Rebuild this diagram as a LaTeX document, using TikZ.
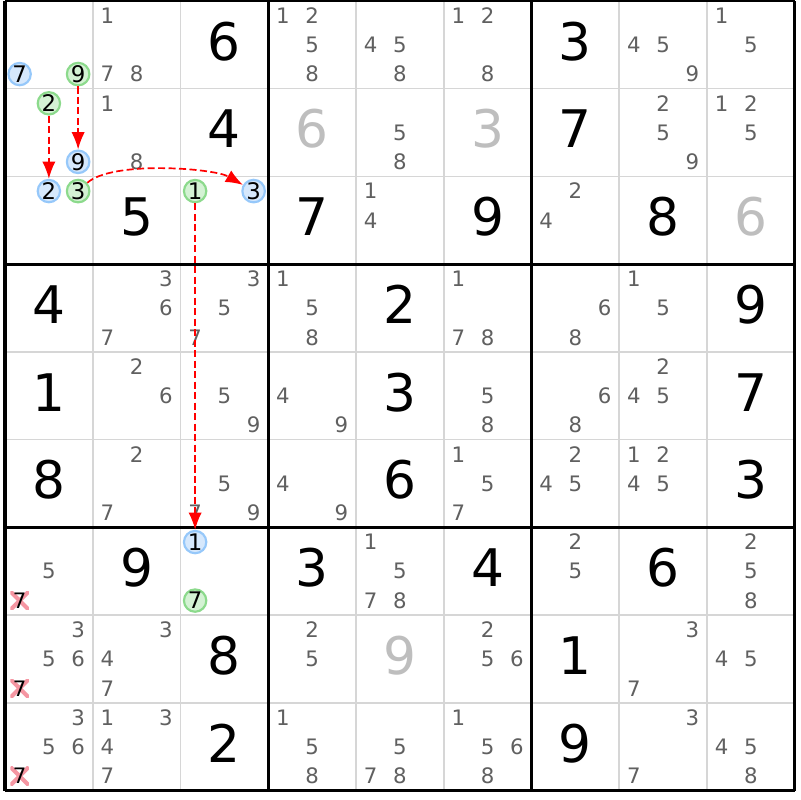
\documentclass[tikz,border=0pt]{standalone}
\usepackage{fontspec}
\setmainfont{DejaVu Sans}
\usepackage{tikz}
\usetikzlibrary{arrows.meta}
\usetikzlibrary{positioning}
\definecolor{candgray}{RGB}{96,96,96}
\definecolor{solvedgray}{RGB}{190,190,190}
\definecolor{thingrid}{RGB}{214,214,214}
\definecolor{onblue}{RGB}{214,232,252}
\definecolor{onbluedraw}{RGB}{150,200,250}
\definecolor{ongreen}{RGB}{212,242,212}
\definecolor{ongreendraw}{RGB}{140,218,140}
\definecolor{elimred}{RGB}{245,150,162}
\tikzset{>={Latex[length=5.6pt,width=4.3pt]},
	linkarrow/.style={->,red,line width=0.55pt,dash pattern=on 2.3pt off 1.1pt},
	boxline/.style={black,line width=1pt},
	cellline/.style={thingrid,line width=0.5pt}}
\tikzstyle{given}=[font=\fontsize{16.8}{16.8}\selectfont,inner sep=0pt,yshift=0.04cm]
\tikzstyle{solved}=[given,text=solvedgray]
\tikzstyle{cand}=[font=\fontsize{6.9}{6.9}\selectfont,text=candgray,inner sep=0pt]
\tikzstyle{candon}=[cand,font=\fontsize{7.4}{7.4}\selectfont,text=black,circle,
	minimum size=0.255cm,line width=0.7pt]
\tikzstyle{candblue}=[candon,draw=onbluedraw,fill=onblue]
\tikzstyle{candgreen}=[candon,draw=ongreendraw,fill=ongreen]
\tikzstyle{candx}=[cand,text=black,minimum width=0.21cm,minimum height=0.21cm,
	path picture={\draw[elimred,line width=1.3pt]
		(path picture bounding box.south west) -- (path picture bounding box.north east)
		(path picture bounding box.north west) -- (path picture bounding box.south east);}]
\newcommand\candmark[4]{%
	\pgfmathsetmacro\cx{#3+(2*mod(#4-1,3)+1)/6}%
	\pgfmathsetmacro\cy{-#2-(2*int((#4-1)/3)+1)/6}%
	\node[#1] (c-#2-#3-#4) at (\cx,\cy) {#4};}
\newcommand\candidates[3]{%
	\foreach \d in {#3}{\candmark{cand}{#1}{#2}{\d}}}

\begin{document}
\begin{tikzpicture}
	\path[fill=white,use as bounding box] (-0.057,0.011) rectangle (9.06,-9.106);
	\foreach \i in {1,2,4,5,7,8}
		\draw[cellline] (\i,0) -- (\i,-9) (0,-\i) -- (9,-\i);
	\foreach \i in {0,3,6,9}
		\draw[boxline] (\i,0) -- (\i,-9) (0,-\i) -- (9,-\i);
	\foreach \r/\c/\v in {0/2/6,0/6/3,1/2/4,1/6/7,2/1/5,2/3/7,2/5/9,2/7/8,
		3/0/4,3/4/2,3/8/9,4/0/1,4/4/3,4/8/7,5/0/8,5/4/6,5/8/3,
		6/1/9,6/3/3,6/5/4,6/7/6,7/2/8,7/6/1,8/2/2,8/6/9}
		\node[given] (g-\r-\c) at ({\c+0.5},{-\r-0.5}) {\v};
	\foreach \r/\c/\v in {1/3/6,1/5/3,2/8/6,7/4/9}
		\node[solved] (g-\r-\c) at ({\c+0.5},{-\r-0.5}) {\v};
	% row 0 to 2
	\candidates{0}{1}{1,7,8}
	\candidates{0}{3}{1,2,5,8}
	\candidates{0}{4}{4,5,8}
	\candidates{0}{5}{1,2,8}
	\candidates{0}{7}{4,5,9}
	\candidates{0}{8}{1,5}
	\candidates{1}{1}{1,8}
	\candidates{1}{4}{5,8}
	\candidates{1}{7}{2,5,9}
	\candidates{1}{8}{1,2,5}
	\candidates{2}{4}{1,4}
	\candidates{2}{6}{2,4}
	% row 3 to 5
	\candidates{3}{1}{3,6,7}
	\candidates{3}{2}{3,5,7}
	\candidates{3}{3}{1,5,8}
	\candidates{3}{5}{1,7,8}
	\candidates{3}{6}{6,8}
	\candidates{3}{7}{1,5}
	\candidates{4}{1}{2,6}
	\candidates{4}{2}{5,9}
	\candidates{4}{3}{4,9}
	\candidates{4}{5}{5,8}
	\candidates{4}{6}{6,8}
	\candidates{4}{7}{2,4,5}
	\candidates{5}{1}{2,7}
	\candidates{5}{2}{5,7,9}
	\candidates{5}{3}{4,9}
	\candidates{5}{5}{1,5,7}
	\candidates{5}{6}{2,4,5}
	\candidates{5}{7}{1,2,4,5}
	% row 6 to 8
	\candidates{6}{0}{5}
	\candidates{6}{4}{1,5,7,8}
	\candidates{6}{6}{2,5}
	\candidates{6}{8}{2,5,8}
	\candidates{7}{0}{3,5,6}
	\candidates{7}{1}{3,4,7}
	\candidates{7}{3}{2,5}
	\candidates{7}{5}{2,5,6}
	\candidates{7}{7}{3,7}
	\candidates{7}{8}{4,5}
	\candidates{8}{0}{3,5,6}
	\candidates{8}{1}{1,3,4,7}
	\candidates{8}{3}{1,5,8}
	\candidates{8}{4}{5,7,8}
	\candidates{8}{5}{1,5,6,8}
	\candidates{8}{7}{3,7}
	\candidates{8}{8}{4,5,8}
	% eliminations
	\candmark{candx}{6}{0}{7}
	\candmark{candx}{7}{0}{7}
	\candmark{candx}{8}{0}{7}
	% chain
	\candmark{candblue}{0}{0}{7}
	\candmark{candgreen}{0}{0}{9}
	\candmark{candgreen}{1}{0}{2}
	\candmark{candblue}{1}{0}{9}
	\candmark{candblue}{2}{0}{2}
	\candmark{candgreen}{2}{0}{3}
	\candmark{candgreen}{2}{2}{1}
	\candmark{candblue}{2}{2}{3}
	\candmark{candblue}{6}{2}{1}
	\candmark{candgreen}{6}{2}{7}
	\draw[linkarrow] (c-0-0-9) -- (c-1-0-9);
	\draw[linkarrow] (c-1-0-2) -- (c-2-0-2);
	\draw[linkarrow] (c-2-0-3) to[out=42,in=150,looseness=0.55] (c-2-2-3);
	\draw[linkarrow] (c-2-2-1) -- (c-6-2-1);
\end{tikzpicture}
\end{document}
